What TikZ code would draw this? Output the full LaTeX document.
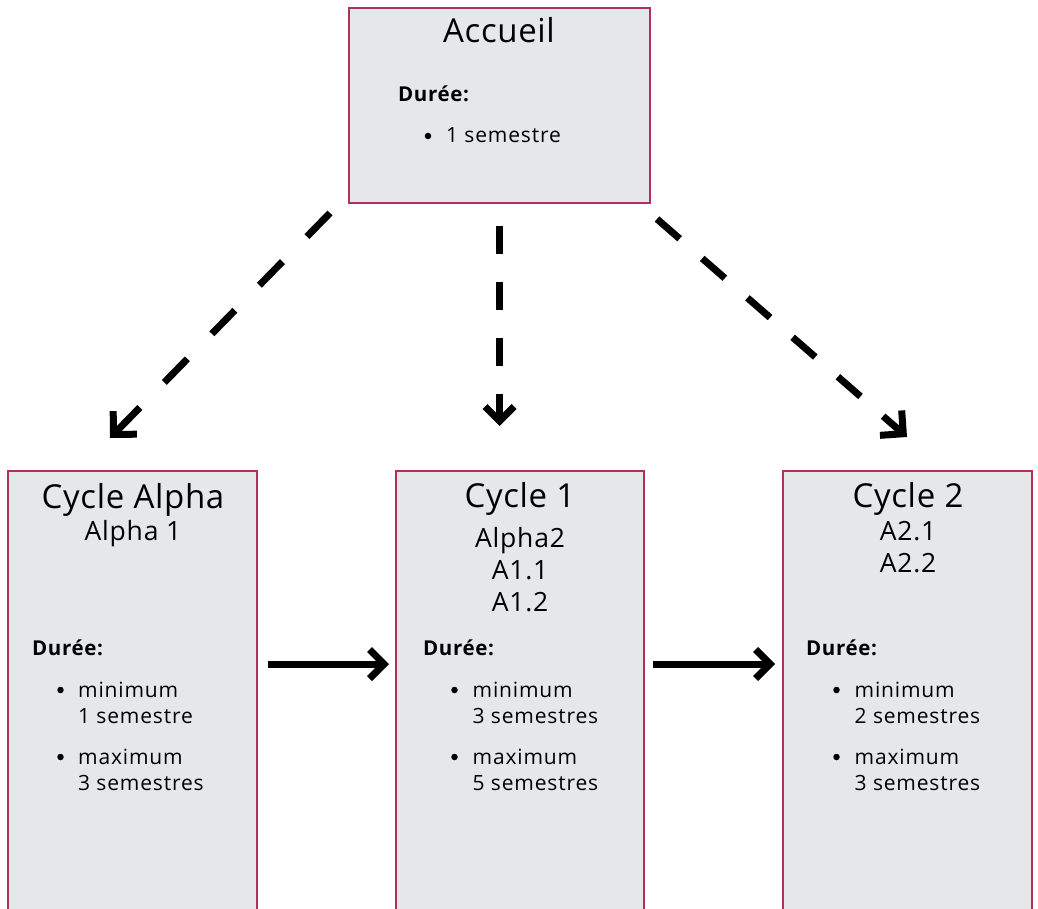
\documentclass[tikz,border=0pt]{standalone}
\usepackage{fontspec}
\setmainfont{Open Sans}
\newfontfamily\titlefont[LetterSpace=2]{Open Sans}
\newfontfamily\subfont[LetterSpace=3]{Open Sans}
\newfontfamily\bodyfont[LetterSpace=4]{Open Sans}
\newfontfamily\lblfont[LetterSpace=3]{Open Sans}
\usetikzlibrary{arrows.meta}
\definecolor{boxborder}{HTML}{B0305E}
\definecolor{boxfill}{HTML}{E6E7E9}
% filled right-angled chevron tip (arms at 45 degrees), thickness = arrow line width
\pgfdeclarearrow{
  name = Chevron,
  parameters = {\the\pgfarrowlength,\the\pgfarrowlinewidth},
  setup code = {
    \pgfarrowssettipend{0pt}
    \pgfarrowssetlineend{-1.2\pgfarrowlinewidth}
    \pgfarrowssetbackend{-\pgfarrowlength}
    \pgfarrowssetvisualbackend{-\pgfarrowlength}
    \pgfarrowssavethe\pgfarrowlength
    \pgfarrowssavethe\pgfarrowlinewidth
  },
  drawing code = {
    \pgfsetdash{}{+0pt}
    \pgfpathmoveto{\pgfpointorigin}
    \pgfpathlineto{\pgfpoint{-\pgfarrowlength}{\pgfarrowlength}}
    \pgfpathlineto{\pgfpoint{-\pgfarrowlength-.7071\pgfarrowlinewidth}{\pgfarrowlength-.7071\pgfarrowlinewidth}}
    \pgfpathlineto{\pgfpoint{-1.4142\pgfarrowlinewidth}{0pt}}
    \pgfpathlineto{\pgfpoint{-\pgfarrowlength-.7071\pgfarrowlinewidth}{-\pgfarrowlength+.7071\pgfarrowlinewidth}}
    \pgfpathlineto{\pgfpoint{-\pgfarrowlength}{-\pgfarrowlength}}
    \pgfpathclose
    \pgfusepathqfill
  },
  defaults = {length = 18pt, line width = 7pt}
}
\begin{document}
\begin{tikzpicture}[x=1pt,y=-1pt,
  box/.style={draw=boxborder, fill=boxfill, line width=2.5pt, inner sep=0pt, rectangle},
  title/.style={anchor=base, font=\titlefont\fontsize{33}{40}\selectfont, inner sep=0pt},
  sub/.style={anchor=base, font=\subfont\fontsize{26.5}{32}\selectfont, inner sep=0pt},
  lbl/.style={anchor=base west, font=\lblfont\fontsize{20.5}{24}\selectfont\bfseries, inner sep=0pt},
  item/.style={anchor=base west, font=\bodyfont\fontsize{21}{25}\selectfont, inner sep=0pt},
  bul/.style={circle, fill=black, inner sep=0pt, minimum size=6.5pt},
  smalltip/.style={-{Chevron[length=17pt,line width=7pt]}},
  bigtip/.style={-{Chevron[length=19pt,line width=7pt]}},
  conn/.style={line width=7pt, line cap=butt}
]
\useasboundingbox (0,0) rectangle (1038,909);

% boxes
\node[box, minimum width=301pt, minimum height=195pt] (acc) at (499.5,105.5) {};
\node[box, minimum width=249pt, minimum height=446pt] (calpha) at (132.5,694) {};
\node[box, minimum width=248pt, minimum height=446pt] (cun) at (520,694) {};
\node[box, minimum width=249pt, minimum height=446pt] (cdeux) at (907.5,694) {};

% Accueil
\node[title] (acct) at (499,43) {Accueil};
\node[lbl] (accd) at (398,102) {Durée:};
\node[bul] (accb) at (428,136) {};
\node[item] (acci) at (446,143) {1 semestre};

% Cycle Alpha
\node[title] (cat) at (133,508) {Cycle Alpha};
\node[sub] (cas) at (133,540) {Alpha 1};
\node[lbl] (cad) at (32,655) {Durée:};
\node[bul] (cab1) at (60.5,690) {};
\node[item] (cai1) at (78,697) {minimum};
\node[item] (cai2) at (78,723) {1 semestre};
\node[bul] (cab2) at (60.5,757) {};
\node[item] (cai3) at (78,764) {maximum};
\node[item] (cai4) at (78,790) {3 semestres};

% Cycle 1
\node[title] (c1t) at (520,507) {Cycle 1};
\node[sub] (c1s1) at (520,547) {Alpha2};
\node[sub] (c1s2) at (520,579) {A1.1};
\node[sub] (c1s3) at (520,611) {A1.2};
\node[lbl] (c1d) at (423,655) {Durée:};
\node[bul] (c1b1) at (454.5,690) {};
\node[item] (c1i1) at (472.5,697) {minimum};
\node[item] (c1i2) at (472.5,723) {3 semestres};
\node[bul] (c1b2) at (454.5,757) {};
\node[item] (c1i3) at (472.5,764) {maximum};
\node[item] (c1i4) at (472.5,790) {5 semestres};

% Cycle 2
\node[title] (c2t) at (908,507) {Cycle 2};
\node[sub] (c2s1) at (908,540) {A2.1};
\node[sub] (c2s2) at (908,572) {A2.2};
\node[lbl] (c2d) at (806,655) {Durée:};
\node[bul] (c2b1) at (836.5,690) {};
\node[item] (c2i1) at (854.5,697) {minimum};
\node[item] (c2i2) at (854.5,723) {2 semestres};
\node[bul] (c2b2) at (836.5,757) {};
\node[item] (c2i3) at (854.5,764) {maximum};
\node[item] (c2i4) at (854.5,790) {3 semestres};

% connector end points
\coordinate (sA) at (330,213);
\coordinate (eA) at (110,438);
\coordinate (sB) at (499.5,226);
\coordinate (eB) at (499.5,426);
\coordinate (sC) at (657,219);
\coordinate (eC) at (907,437);
\coordinate (sD) at (268,664);
\coordinate (eD) at (389,664);
\coordinate (sE) at (653,664);
\coordinate (eE) at (775,664);

\draw[conn, bigtip, dash pattern=on 33pt off 35pt] (sA) -- (eA);
\draw[conn, smalltip, dash pattern=on 28pt off 28pt] (sB) -- (eB);
\draw[conn, bigtip, dash pattern=on 30pt off 30pt] (sC) -- (eC);
\draw[conn, smalltip] (sD) -- (eD);
\draw[conn, smalltip] (sE) -- (eE);
\end{tikzpicture}
\end{document}
